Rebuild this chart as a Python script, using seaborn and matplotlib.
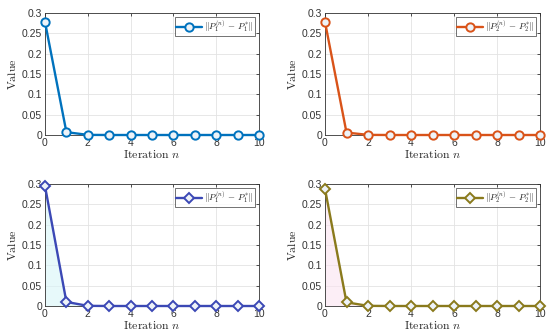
import numpy as np
import pandas as pd
import seaborn as sns
import matplotlib.pyplot as plt

iterations = list(range(11))
err_p1 = [0.278, 0.007, 0.0003, 0, 0, 0, 0, 0, 0, 0, 0]
err_p2 = [0.278, 0.006, 0.0003, 0, 0, 0, 0, 0, 0, 0, 0]
err_p1_star = [0.295, 0.010, 0.0004, 0, 0, 0, 0, 0, 0, 0, 0]
err_p2_star = [0.288, 0.009, 0.0004, 0, 0, 0, 0, 0, 0, 0, 0]

labels = [r"$\|P_1^{(n)}\,-\,P_1^{*}\|$", r"$\|P_2^{(n)}\,-\,P_2^{*}\|$",
          r"$\|P_1^{(n)}\,-\,P_1^{*}\|$", r"$\|P_2^{(n)}\,-\,P_2^{*}\|$"]
colors = ["#0072BD", "#D95319", "#3B48B5", "#8A7A1C"]
shades = [None, None, "#d8f6f8", "#fbe3f1"]
markers = ["o", "o", "D", "D"]

sns.set_style("whitegrid")
plt.rcParams["mathtext.fontset"] = "cm"
plt.rcParams["font.family"] = ["Liberation Sans", "DejaVu Sans"]

fig = plt.figure(figsize=(5.5, 3.33), dpi=100)
boxes = [[45, 13, 259, 135], [325, 13, 540, 135],
         [45, 184, 259, 306], [325, 184, 540, 306]]
series = [err_p1, err_p2, err_p1_star, err_p2_star]

for i in range(4):
    l, t, r, b = boxes[i]
    ax = fig.add_axes([l / 550, 1 - b / 333, (r - l) / 550, (b - t) / 333])
    df = pd.DataFrame({"n": iterations, "v": series[i]})
    if shades[i]:
        ax.fill_between(df["n"], 0, df["v"], color=shades[i], alpha=0.6, lw=0, zorder=1)
    sns.lineplot(data=df, x="n", y="v", ax=ax, color=colors[i], marker=markers[i],
                 markersize=6 if markers[i] == "o" else 5, markerfacecolor="#eef3f8",
                 markeredgecolor=colors[i], markeredgewidth=1.4, linewidth=1.7,
                 label=labels[i], zorder=3, clip_on=False)
    ax.set_xlim(0, 10)
    ax.set_ylim(0, 0.3)
    ax.set_xticks([0, 2, 4, 6, 8, 10])
    ax.set_yticks([0, 0.05, 0.1, 0.15, 0.2, 0.25, 0.3])
    ax.set_yticklabels(["0", "0.05", "0.1", "0.15", "0.2", "0.25", "0.3"])
    ax.grid(True, color="#e3e3e3", linewidth=0.6)
    for s in ax.spines.values():
        s.set_color("#333333")
        s.set_linewidth(0.6)
    ax.tick_params(axis="both", labelsize=7.5, colors="#333333", direction="in",
                   length=2, width=0.6, top=True, right=True, pad=2)
    ax.set_xlabel(r"$\mathrm{Iteration}\ n$", fontsize=8.5, labelpad=1)
    ax.set_ylabel(r"$\mathrm{Value}$", fontsize=8.5, labelpad=2)
    leg = ax.legend(loc="upper right", fontsize=6.5, frameon=True, fancybox=False,
                    handlelength=2.8, borderpad=0.2, handletextpad=0.3,
                    borderaxespad=0.4)
    leg.get_frame().set_edgecolor("#333333")
    leg.get_frame().set_linewidth(0.6)

fig.savefig("out.png", dpi=100)
